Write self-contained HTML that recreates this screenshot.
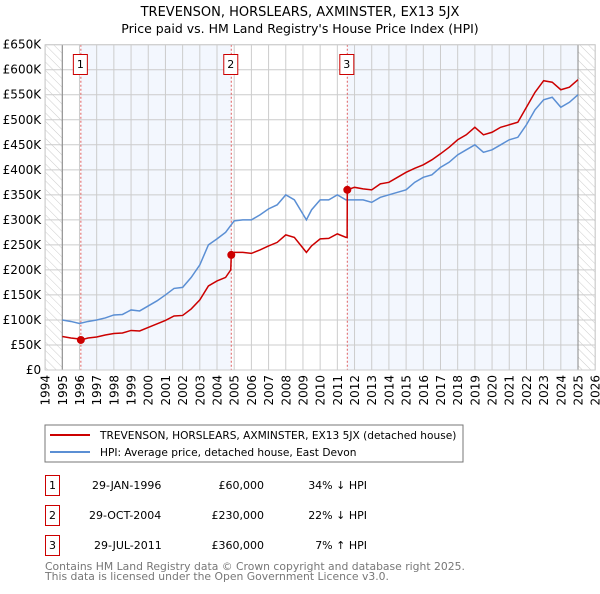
<!DOCTYPE html>
<html><head><meta charset="utf-8"><style>
body{margin:0;background:#fff;font-family:"DejaVu Sans","Liberation Sans",sans-serif;}
svg text{font-family:"DejaVu Sans","Liberation Sans",sans-serif;}
</style></head><body>
<svg id="c" width="600" height="590" viewBox="0 0 600 590">
<defs><pattern id="hatch" width="6" height="6" patternUnits="userSpaceOnUse" patternTransform="rotate(-45)"><line x1="0" y1="0" x2="0" y2="6" stroke="#ccc" stroke-width="1"/></pattern></defs>
<text x="300" y="16" text-anchor="middle" font-size="13">TREVENSON, HORSLEARS, AXMINSTER, EX13 5JX</text>
<text x="300" y="33" text-anchor="middle" font-size="12.5">Price paid vs. HM Land Registry's House Price Index (HPI)</text>
<g id="plot"></g>
<rect x="45" y="425" width="418" height="37" fill="#fff" stroke="#777"/>
<line x1="50" y1="435" x2="90" y2="435" stroke="#cc0000" stroke-width="2"/>
<text x="100" y="439" font-size="10.6">TREVENSON, HORSLEARS, AXMINSTER, EX13 5JX (detached house)</text>
<line x1="50" y1="452" x2="90" y2="452" stroke="#5b8fd4" stroke-width="2"/>
<text x="100" y="456" font-size="10.6">HPI: Average price, detached house, East Devon</text>
<g font-size="11">
<rect x="45.5" y="475.5" width="14" height="20" fill="#fff" stroke="#cc0000"/><text x="52.5" y="489" text-anchor="middle">1</text>
<text x="92" y="489">29-JAN-1996</text><text x="264" y="489" text-anchor="end">£60,000</text><text x="367" y="489" text-anchor="end">34% ↓ HPI</text>
<rect x="45.5" y="505.5" width="14" height="20" fill="#fff" stroke="#cc0000"/><text x="52.5" y="519" text-anchor="middle">2</text>
<text x="89" y="519">29-OCT-2004</text><text x="264" y="519" text-anchor="end">£230,000</text><text x="367" y="519" text-anchor="end">22% ↓ HPI</text>
<rect x="45.5" y="535.5" width="14" height="20" fill="#fff" stroke="#cc0000"/><text x="52.5" y="549" text-anchor="middle">3</text>
<text x="94" y="549">29-JUL-2011</text><text x="264" y="549" text-anchor="end">£360,000</text><text x="367" y="549" text-anchor="end">7% ↑ HPI</text>
</g>
<text x="45" y="570" font-size="10.8" fill="#777">Contains HM Land Registry data © Crown copyright and database right 2025.</text>
<text x="45" y="580" font-size="10.8" fill="#777">This data is licensed under the Open Government Licence v3.0.</text>
</svg>
<script>
const yTicks=[0,50,100,150,200,250,300,350,400,450,500,550,600,650];
const yTickLabels=["£0","£50K","£100K","£150K","£200K","£250K","£300K","£350K","£400K","£450K","£500K","£550K","£600K","£650K"];
const years=[1994,1995,1996,1997,1998,1999,2000,2001,2002,2003,2004,2005,2006,2007,2008,2009,2010,2011,2012,2013,2014,2015,2016,2017,2018,2019,2020,2021,2022,2023,2024,2025,2026];
const hpiT=[1995,1995.5,1996,1996.5,1997,1997.5,1998,1998.5,1999,1999.5,2000,2000.5,2001,2001.5,2002,2002.5,2003,2003.5,2004,2004.5,2005,2005.5,2006,2006.5,2007,2007.5,2008,2008.5,2009.2,2009.5,2010,2010.5,2011,2011.5,2012,2012.5,2013,2013.5,2014,2014.5,2015,2015.5,2016,2016.5,2017,2017.5,2018,2018.5,2019,2019.5,2020,2020.5,2021,2021.5,2022,2022.5,2023,2023.5,2024,2024.5,2025];
const hpiV=[100,97,93,97,100,104,110,111,120,118,128,138,150,163,165,185,210,250,262,275,298,300,300,310,322,330,350,340,300,320,340,340,350,340,340,340,335,345,350,355,360,375,385,390,405,415,430,440,450,435,440,450,460,465,490,520,540,545,525,535,550];
const priceT=[1995,1995.5,1996,1996.08,1996.5,1997,1997.5,1998,1998.5,1999,1999.5,2000,2000.5,2001,2001.5,2002,2002.5,2003,2003.5,2004,2004.5,2004.8,2004.83,2005,2005.5,2006,2006.5,2007,2007.5,2008,2008.5,2009.2,2009.5,2010,2010.5,2011,2011.5,2011.57,2011.58,2012,2012.5,2013,2013.5,2014,2014.5,2015,2015.5,2016,2016.5,2017,2017.5,2018,2018.5,2019,2019.5,2020,2020.5,2021,2021.5,2022,2022.5,2023,2023.5,2024,2024.5,2025];
const priceV=[67,64,62,60,64,66,70,73,74,79,78,85,92,99,108,109,122,140,168,178,185,200,230,235,235,233,240,248,255,270,265,235,248,262,263,272,265,265,360,365,362,360,372,375,385,395,403,410,420,432,445,460,470,485,470,475,485,490,495,525,555,578,575,560,565,580];
const saleT=[1996.08,2004.83,2011.58];
const saleV=[60,230,360];
const saleLabels=["1","2","3"];

const X0=45.1,X1=595.2,Y0=370,Y1=44.7;
const xs=t=>X0+(t-1994)/32*(X1-X0);
const ys=v=>Y0-v/650*(Y0-Y1);
const NS="http://www.w3.org/2000/svg";
const g=document.getElementById('plot');
function mk(tag,attrs,parent){const e=document.createElementNS(NS,tag);for(const k in attrs)e.setAttribute(k,attrs[k]);(parent||g).appendChild(e);return e;}
let e;
e=mk('rect',{x:xs(saleT[0]),y:Y1,width:xs(saleT[1])-xs(saleT[0]),height:Y0-Y1,fill:'#f3f7fe'});


e=mk('rect',{x:xs(saleT[2]),y:Y1,width:xs(2025)-xs(saleT[2]),height:Y0-Y1,fill:'#f3f7fe'});


e=mk('rect',{x:X0,y:Y1,width:xs(1995)-X0,height:Y0-Y1,fill:'url(#hatch)'});


e=mk('rect',{x:xs(2025),y:Y1,width:X1-xs(2025),height:Y0-Y1,fill:'url(#hatch)'});


yTicks.forEach((v,i)=>{
 e=mk('line',{x1:X0,x2:X1,y1:ys(v),y2:ys(v),stroke:'#ccc'});
 
 
 e=mk('text',{x:X0-4,y:ys(v)+4,'text-anchor':'end','font-size':12});
 e.textContent=yTickLabels[i];
 
 
});
years.forEach(y=>{
 e=mk('line',{x1:xs(y),x2:xs(y),y1:Y1,y2:Y0,stroke:'#ccc'});
 
 
 e=mk('text',{x:0,y:0,'text-anchor':'end','font-size':12,transform:`translate(${xs(y)+4.5},${Y0+5}) rotate(-90)`});
 e.textContent=y;
 
 
});
e=mk('line',{x1:xs(1995),x2:xs(1995),y1:Y1,y2:Y0,stroke:'#888'});


e=mk('line',{x1:xs(2025),x2:xs(2025),y1:Y1,y2:Y0,stroke:'#888'});


saleT.forEach((t,i)=>{
 e=mk('line',{x1:xs(t),x2:xs(t),y1:Y1,y2:Y0,stroke:'#e06060','stroke-dasharray':'2,2'});
 
 
 e=mk('rect',{x:xs(t)-7.5,y:54.5,width:14,height:20,fill:'#fff',stroke:'#cc0000'});
 
 
 e=mk('text',{x:xs(t)-0.5,y:68,'text-anchor':'middle','font-size':11});
 e.textContent=saleLabels[i];
 
 
});
e=mk('rect',{x:X0,y:Y1,width:X1-X0,height:Y0-Y1,fill:'none',stroke:'#ccc'});


e=mk('polyline',{points:hpiT.map((t,i)=>xs(t)+','+ys(hpiV[i])).join(' '),fill:'none',stroke:'#5b8fd4','stroke-width':1.5});


e=mk('polyline',{points:priceT.map((t,i)=>xs(t)+','+ys(priceV[i])).join(' '),fill:'none',stroke:'#cc0000','stroke-width':1.5});


saleT.forEach((t,i)=>{
 e=mk('circle',{cx:xs(t),cy:ys(saleV[i]),r:4,fill:'#cc0000'});
 
 
});
</script>
</body></html>
